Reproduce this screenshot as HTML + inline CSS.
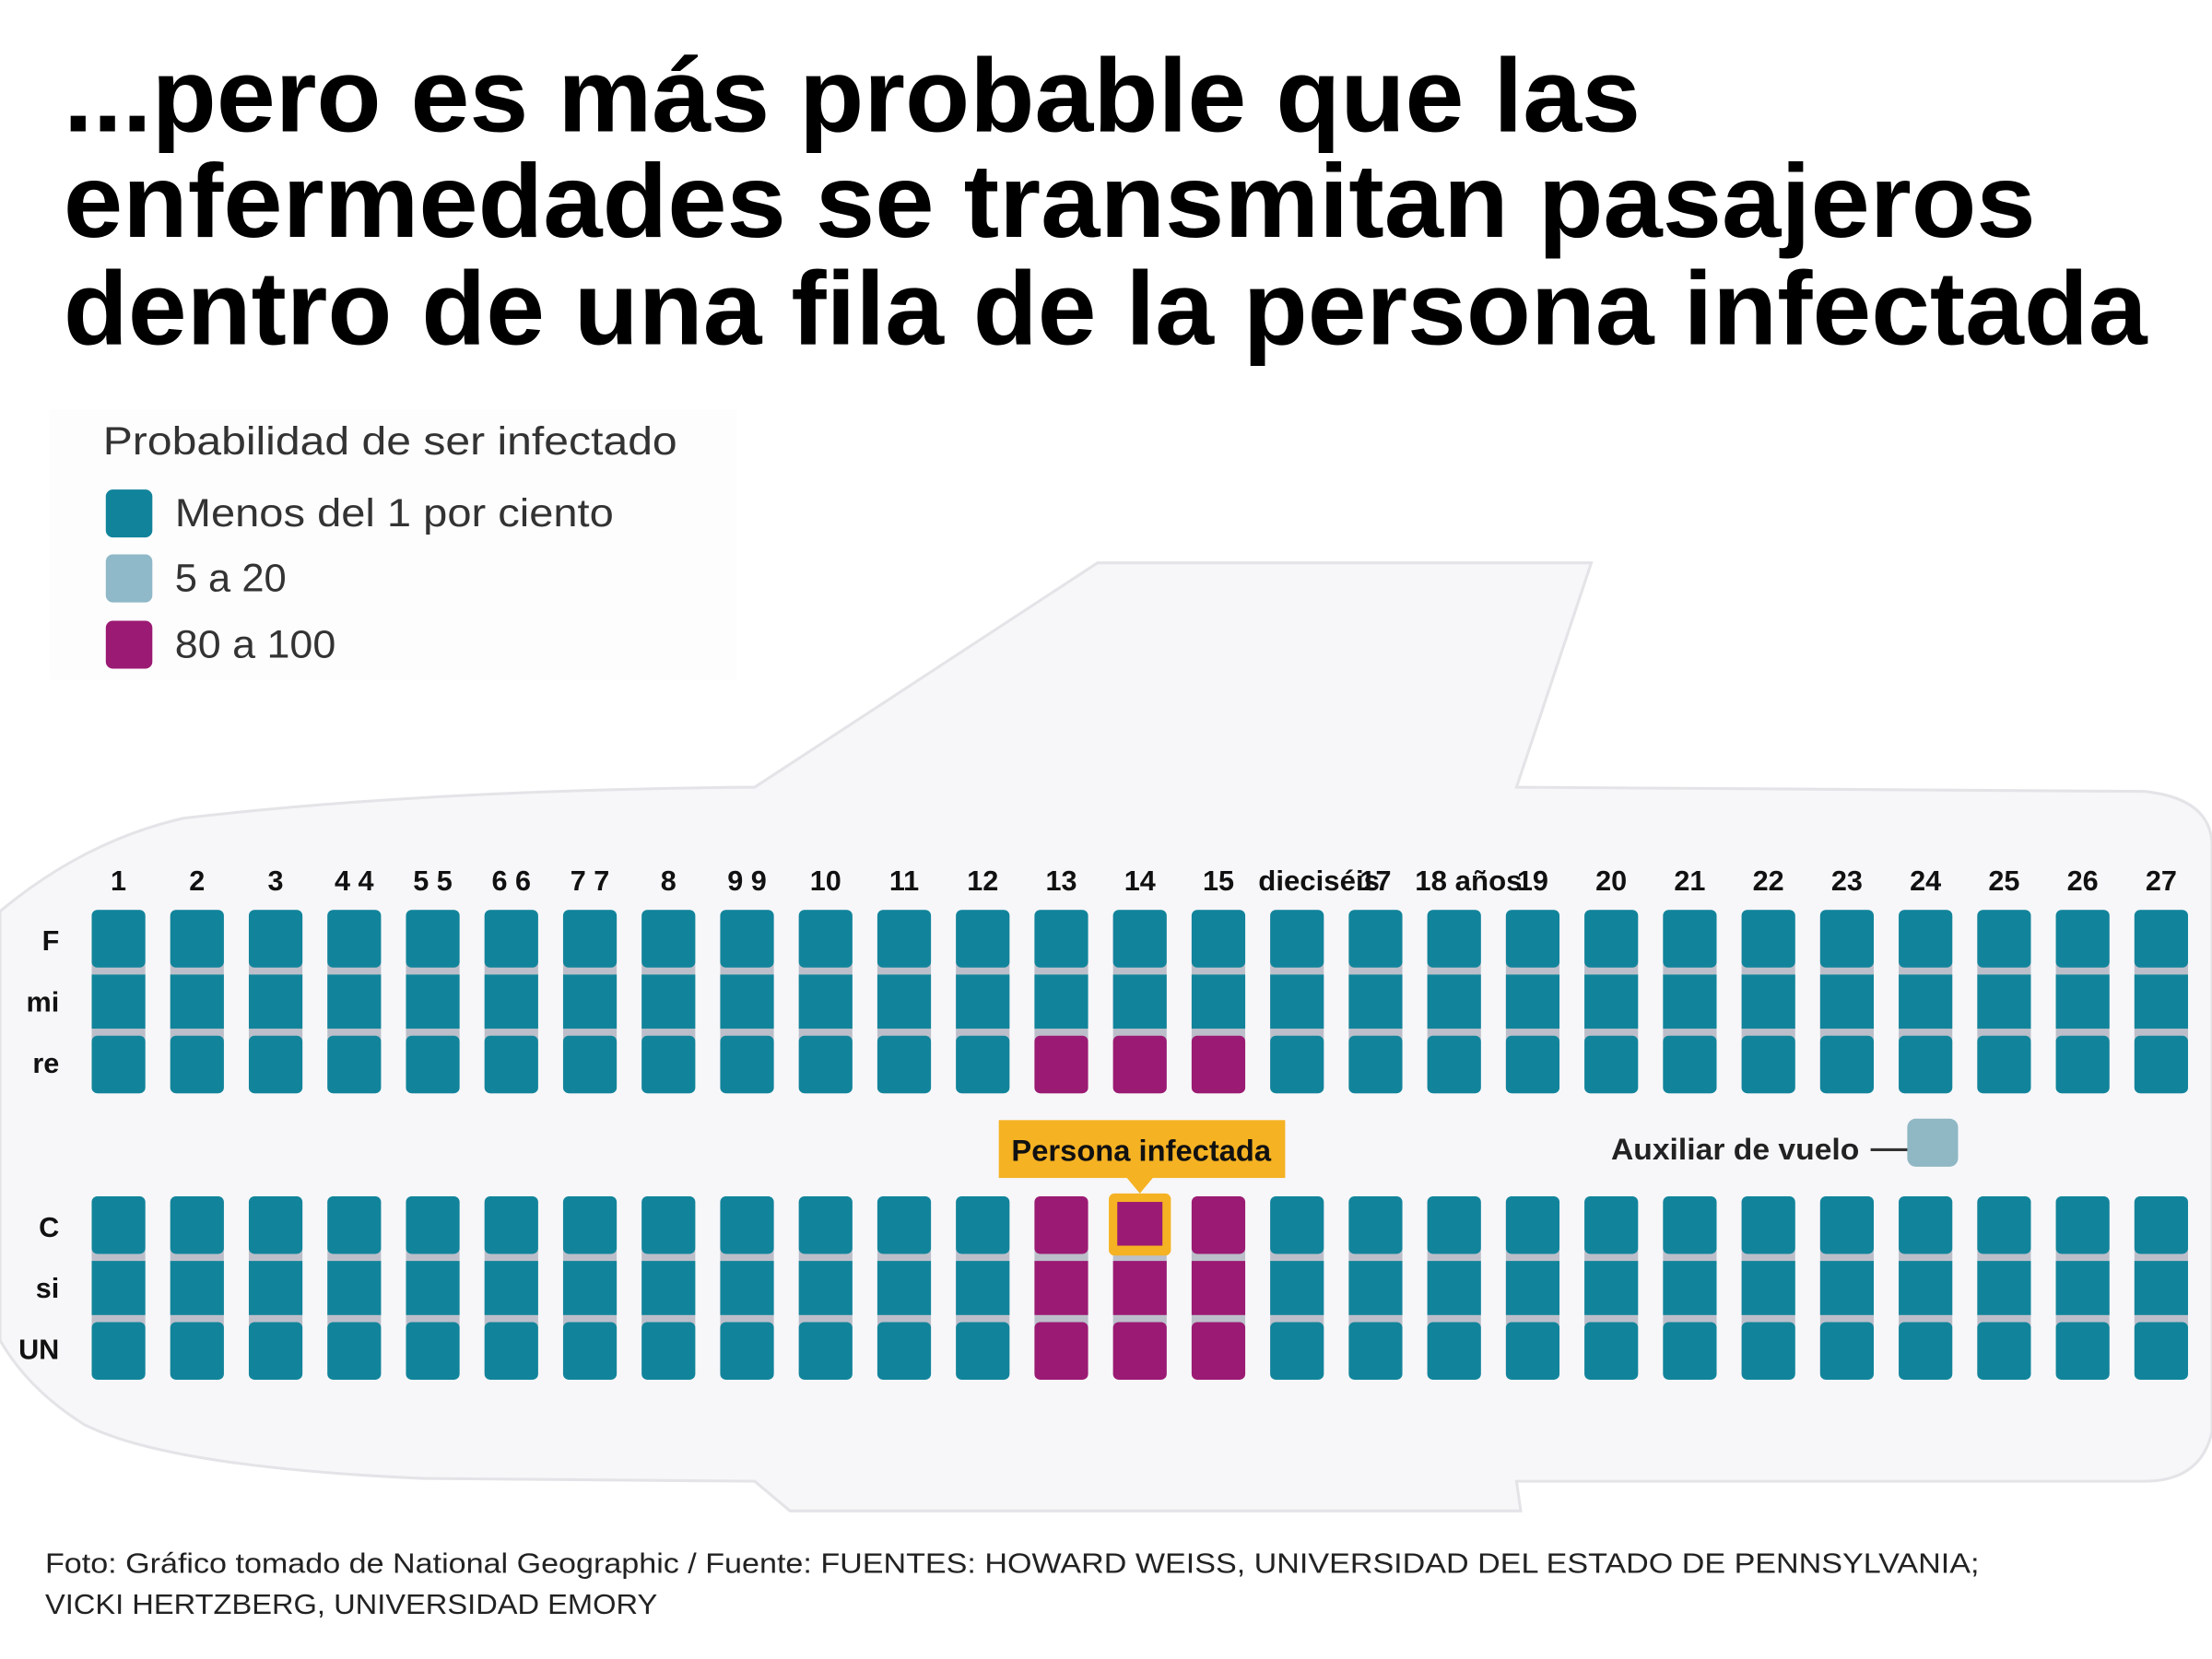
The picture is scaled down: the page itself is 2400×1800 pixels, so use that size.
<!DOCTYPE html>
<html><head><meta charset="utf-8">
<style>
html,body{margin:0;padding:0;background:#fff;}
svg{display:block;}
text{font-family:"Liberation Sans",sans-serif;}
</style></head>
<body>
<svg id="chart" width="2400" height="1800" viewBox="0 0 1568 1176" xmlns="http://www.w3.org/2000/svg">
  <rect x="0" y="0" width="1568" height="1176" fill="#ffffff"/>
  <g font-weight="bold" font-size="74" fill="#000">
    <text x="45" y="93" textLength="1118" lengthAdjust="spacingAndGlyphs">...pero es más probable que las</text>
    <text x="45" y="168" textLength="1398" lengthAdjust="spacingAndGlyphs">enfermedades se transmitan pasajeros</text>
    <text x="45" y="244" textLength="1477" lengthAdjust="spacingAndGlyphs">dentro de una fila de la persona infectada</text>
  </g>
  <path d="M0,646 Q60,596 130,580 Q300,560 535,558 L778,399 L1128,399 L1075,558 L1520,561 Q1568,566 1568,600 L1568,1015 Q1560,1050 1520,1050 L1075,1050 L1078,1071 L560,1071 L535,1050 L300,1048 Q120,1040 60,1010 Q20,985 0,950 Z" fill="#f7f7f9" stroke="#e4e4e8" stroke-width="2"/>
  <rect x="35" y="290" width="487" height="192" fill="#fdfdfd"/>
  <g fill="#333" font-size="28">
    <text x="73" y="322" textLength="407" lengthAdjust="spacingAndGlyphs">Probabilidad de ser infectado</text>
    <rect x="75" y="347" width="33" height="34" rx="5" fill="#11849b"/>
    <text x="124" y="373" textLength="311" lengthAdjust="spacingAndGlyphs">Menos del 1 por ciento</text>
    <rect x="75" y="393" width="33" height="34" rx="5" fill="#8fb8c8"/>
    <text x="124" y="419" textLength="79" lengthAdjust="spacingAndGlyphs">5 a 20</text>
    <rect x="75" y="440" width="33" height="34" rx="5" fill="#9b1a73"/>
    <text x="124" y="466" textLength="114" lengthAdjust="spacingAndGlyphs">80 a 100</text>
  </g>
  <g id="seats"></g>
  <g>
    <rect x="708" y="794" width="203" height="41" fill="#f5b223"/>
    <polygon points="798,834 818,834 808,846" fill="#f5b223"/>
    <text x="809" y="823" text-anchor="middle" font-weight="bold" font-size="21" fill="#111" textLength="184" lengthAdjust="spacingAndGlyphs">Persona infectada</text>
  </g>
  <g>
    <text x="1318" y="822" text-anchor="end" font-weight="bold" font-size="21" fill="#222" textLength="176" lengthAdjust="spacingAndGlyphs">Auxiliar de vuelo</text>
    <line x1="1326" y1="815" x2="1353" y2="815" stroke="#333" stroke-width="2"/>
    <rect x="1352" y="793" width="36" height="34" rx="6" fill="#8fb7c4"/>
  </g>
  <g font-size="20" fill="#222">
    <text x="32" y="1115" textLength="1371" lengthAdjust="spacingAndGlyphs">Foto: Gráfico tomado de National Geographic / Fuente: FUENTES: HOWARD WEISS, UNIVERSIDAD DEL ESTADO DE PENNSYLVANIA;</text>
    <text x="32" y="1144" textLength="434" lengthAdjust="spacingAndGlyphs">VICKI HERTZBERG, UNIVERSIDAD EMORY</text>
  </g>
</svg>
<script>
const columnLabels = ["1","2","3","4 4","5 5","6 6","7 7","8","9 9","10","11","12","13","14","15","dieciséis","17","18 años","19","20","21","22","23","24","25","26","27"];
const rowLabels = ["F","mi","re","C","si","UN"];
// 0 = menos del 1%, 1 = 5 a 20, 2 = 80 a 100
const rowF  = [0,0,0,0,0,0,0,0,0,0,0,0,0,0,0,0,0,0,0,0,0,0,0,0,0,0,0];
const rowMi = [0,0,0,0,0,0,0,0,0,0,0,0,0,0,0,0,0,0,0,0,0,0,0,0,0,0,0];
const rowRe = [0,0,0,0,0,0,0,0,0,0,0,0,2,2,2,0,0,0,0,0,0,0,0,0,0,0,0];
const rowC  = [0,0,0,0,0,0,0,0,0,0,0,0,2,2,2,0,0,0,0,0,0,0,0,0,0,0,0];
const rowSi = [0,0,0,0,0,0,0,0,0,0,0,0,2,2,2,0,0,0,0,0,0,0,0,0,0,0,0];
const rowUn = [0,0,0,0,0,0,0,0,0,0,0,0,2,2,2,0,0,0,0,0,0,0,0,0,0,0,0];
const infectedColumn = 14;
const infectedRow = "C";

const NS = "http://www.w3.org/2000/svg";
const g = document.getElementById("seats");
const colors = ["#11849b", "#8fb8c8", "#9b1a73"];
const rows = [rowF, rowMi, rowRe, rowC, rowSi, rowUn];
const x0 = 84, pitch = (1532 - 84) / 26, seatW = 38;
function xCenter(i) { return x0 + i * pitch; }
// seat row geometry: block top, each seat 43.3 tall approx with 5px separator
const blockTops = [645, 848];
const seatH = 130 / 3;
function yTop(r) { const b = blockTops[r < 3 ? 0 : 1]; return b + (r % 3) * seatH; }
function mk(tag, attrs) { const e = document.createElementNS(NS, tag); for (const k in attrs) e.setAttribute(k, attrs[k]); return e; }

// column labels
columnLabels.forEach((lab, i) => {
  const t = mk("text", { y: 631, "font-weight": "bold", "font-size": "20", fill: "#111" });
  
  
  if (lab === "dieciséis") { t.setAttribute("x", 892); t.setAttribute("textLength", 86); t.setAttribute("lengthAdjust", "spacingAndGlyphs"); }
  else if (lab === "18 años") { t.setAttribute("x", 1003); t.setAttribute("textLength", 76); t.setAttribute("lengthAdjust", "spacingAndGlyphs"); }
  else { t.setAttribute("x", xCenter(i)); t.setAttribute("text-anchor", "middle"); }
  t.textContent = lab;
  g.appendChild(t);
});
// row labels
rowLabels.forEach((lab, r) => {
  const t = mk("text", { x: 42, y: yTop(r) + seatH / 2 + 7, "text-anchor": "end", "font-weight": "bold", "font-size": "20", fill: "#111" });
  
  
  t.textContent = lab;
  g.appendChild(t);
});
// seat column backgrounds (gray separators)
columnLabels.forEach((lab, i) => {
  blockTops.forEach(bt => {
    const bg = mk("rect", { x: xCenter(i) - seatW / 2, y: bt, width: seatW, height: 130, rx: 5, fill: "#bcbfca" });
    
    
    g.appendChild(bg);
  });
});
// seats
rows.forEach((vals, r) => {
  vals.forEach((v, i) => {
    const top = yTop(r) + (r % 3 === 0 ? 0 : 2.5);
    const bot = yTop(r) + seatH - (r % 3 === 2 ? 0 : 2.5);
    const s = mk("rect", { x: xCenter(i) - seatW / 2, y: top, width: seatW, height: bot - top, rx: (r % 3 === 1 ? 0 : 4), fill: colors[v] });
    
    
    g.appendChild(s);
  });
});
// infected highlight
{
  const r = rowLabels.indexOf(infectedRow), i = infectedColumn - 1;
  const hl = mk("rect", { x: xCenter(i) - 22, y: yTop(r) - 2, width: 44, height: 44, rx: 4, fill: "#f5b223" });
  
  
  g.appendChild(hl);
  const inner = mk("rect", { x: xCenter(i) - 16, y: yTop(r) + 4, width: 32, height: 31, fill: colors[rows[r][i]] });
  
  
  g.appendChild(inner);
}
</script>
</body></html>
